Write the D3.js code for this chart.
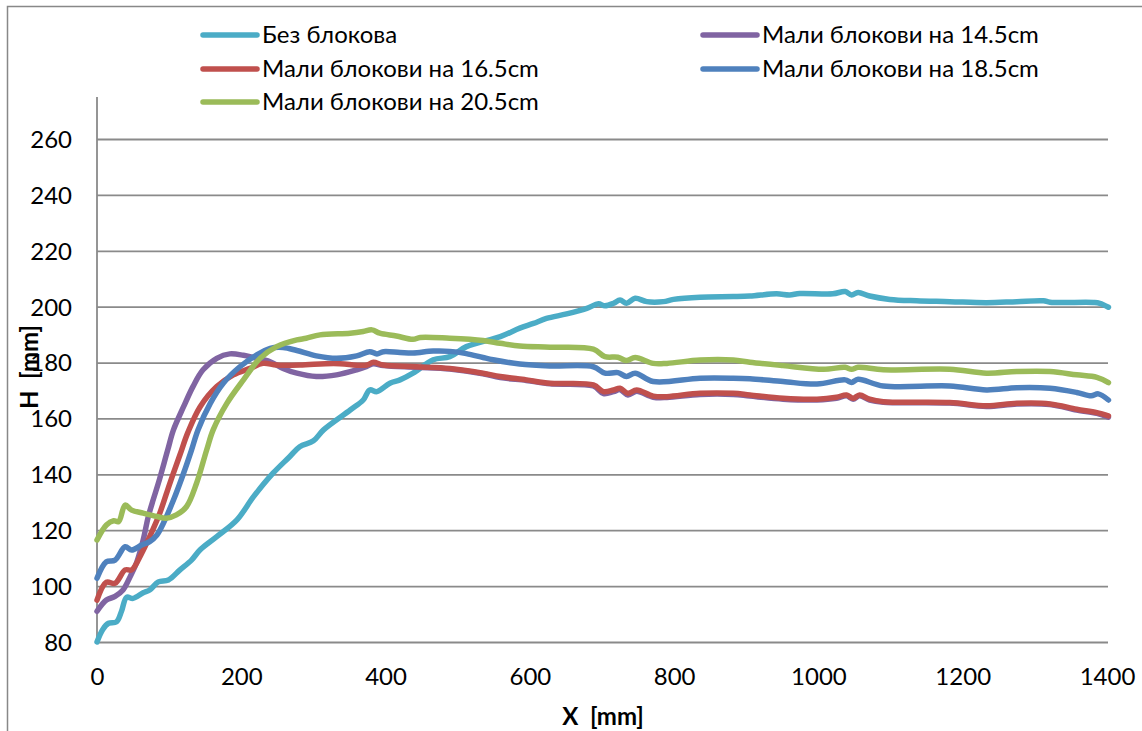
<!DOCTYPE html>
<html><head><meta charset="utf-8">
<script src="https://cdn.jsdelivr.net/npm/d3@7"></script>
<style>
html,body{margin:0;padding:0;background:#fff;}
text{font-family:Lato,"Open Sans",sans-serif;fill:#000;white-space:pre;}
</style></head>
<body><svg id="chart" width="1142" height="731"></svg>
<script>
// ---- data ----
const seriesNames = ["Без блокова","Мали блокови на 14.5cm","Мали блокови на 16.5cm","Мали блокови на 18.5cm","Мали блокови на 20.5cm"];
const seriesColors = ["#4BACC6","#8064A2","#C0504D","#4F81BD","#9BBB59"];
const xTicks = [0,200,400,600,800,1000,1200,1400];
const yTicks = [80,100,120,140,160,180,200,220,240,260];

const bezBlokova = [[0,80],[8,84.5],[16,86.7],[27,87.2],[34,91],[41,96],[50,95.6],[64,97.6],[73,98.6],[85,101.5],[99,102.2],[115,105.8],[131,109.3],[143,113],[166,117.7],[194,123.7],[217,132],[244,140.4],[267,146.3],[281,149.9],[300,152],[314,155.9],[351,163],[369,166.6],[378,170.2],[388,169.6],[406,172.6],[420,173.8],[438,176.2],[466,181],[489,182.1],[512,185.7],[559,189.3],[586,192.3],[605,194],[623,195.8],[651,197.4],[679,199.4],[695,201],[704,200.3],[716,201.2],[725,202.4],[734,201.2],[746,203],[762,201.8],[785,201.8],[799,202.6],[836,203.4],[882,203.6],[905,203.8],[942,204.6],[960,204.2],[974,204.7],[1020,204.6],[1037,205.4],[1046,204.2],[1055,205.1],[1071,203.8],[1099,202.6],[1136,202.1],[1182,201.8],[1233,201.4],[1275,201.8],[1312,202.1],[1321,201.6],[1381,201.5],[1390,201.2],[1402,199.8]];

const mali145 = [[0,91],[13,95],[25,96.3],[36,98.6],[46,103.4],[55,108.5],[64,116.5],[71,124.8],[78,131],[85,136.8],[98,148.7],[106,155.9],[120,164.2],[133,171.4],[147,177.4],[166,181.5],[184,183.1],[203,182.6],[217,181.8],[240,180.3],[258,177.9],[277,176.2],[304,175],[332,175.6],[360,177.4],[374,178.6],[383,179.6],[397,178.9],[443,178.3],[489,177.7],[535,176],[559,174.6],[595,173.6],[628,172.4],[688,171.6],[702,168.9],[716,169.6],[725,170.3],[736,168.4],[748,169.7],[771,167.6],[790,167.5],[836,168.6],[882,168.6],[905,168],[951,166.9],[998,166.6],[1025,167.2],[1039,168.1],[1048,166.9],[1057,168.1],[1071,166.6],[1090,165.8],[1182,165.5],[1233,164.3],[1275,165.2],[1321,165],[1358,163],[1386,161.8],[1402,160.5]];

const mali165 = [[0,95],[13,101.4],[25,101],[39,105.8],[48,105.8],[62,111.8],[73,117.7],[87,126.1],[101,136.8],[115,147],[126,155],[143,164.2],[166,171.4],[189,175.6],[212,177.9],[230,179.7],[249,179.1],[281,179.1],[328,179.7],[374,179.1],[383,180.1],[397,179.1],[443,178.5],[489,177.9],[535,176.2],[559,175],[595,173.8],[628,172.6],[688,172],[702,169.6],[716,170.2],[725,170.8],[736,169],[748,170.2],[771,168],[790,167.8],[836,169],[882,169],[905,168.4],[951,167.2],[998,166.9],[1025,167.6],[1039,168.4],[1048,167.2],[1057,168.4],[1071,166.9],[1090,166],[1182,165.7],[1233,164.5],[1275,165.4],[1321,165.2],[1358,163.3],[1386,162.1],[1402,160.9]];

const mali185 = [[0,102.8],[13,108.7],[25,109.3],[39,114.1],[48,112.9],[62,114.7],[73,115.9],[83,118.3],[92,122.5],[106,130.8],[120,140.4],[131,148.7],[140,155.9],[157,165.4],[175,172.6],[198,178.5],[221,182.7],[240,185.1],[258,185.4],[277,184.3],[304,182.4],[332,181.5],[360,182.4],[378,183.9],[388,183.1],[397,183.9],[420,183.6],[438,183.4],[466,184.1],[489,184],[512,183.2],[535,181.8],[549,181],[586,179.5],[628,178.8],[688,178.5],[704,176.2],[722,176.4],[734,175],[746,176.2],[771,173.2],[836,174.4],[882,174.4],[905,174.2],[951,173.2],[998,172.3],[1037,173.8],[1046,172.9],[1055,174],[1090,171.6],[1182,171.6],[1233,170.2],[1275,171],[1321,170.8],[1358,169.3],[1378,168.1],[1388,168.8],[1402,166.6]];

const mali205 = [[0,116.5],[13,121.9],[23,123.4],[30,123.1],[39,129],[48,127.2],[64,126.1],[83,124.9],[96,124.3],[110,125.5],[124,128.4],[138,136.8],[152,148.7],[161,155.9],[180,165.4],[203,173.8],[226,181.5],[249,185.7],[277,188.1],[290,188.7],[309,189.9],[351,190.5],[369,191.1],[381,191.7],[392,190.5],[415,189.5],[438,188.3],[448,189],[489,188.7],[535,187.9],[559,186.9],[586,185.9],[628,185.5],[688,184.8],[704,182.1],[722,181.9],[734,180.7],[746,181.8],[771,179.7],[790,179.7],[836,180.9],[882,180.9],[905,180.1],[951,178.9],[1007,177.6],[1037,178.3],[1046,177.6],[1055,178.3],[1090,177.4],[1182,177.6],[1233,176.2],[1275,176.8],[1321,176.8],[1358,175.6],[1386,174.7],[1402,172.8]];

const seriesData = [bezBlokova, mali145, mali165, mali185, mali205];

// ---- layout ----
const svg = d3.select("#chart");
const plotLeft = 97, plotRight = 1107, plotTop = 97, plotBottom = 642;
const x = d3.scaleLinear().domain([0,1400]).range([plotLeft, plotRight]);
const y = d3.scaleLinear().domain([80,260]).range([plotBottom, 139]);
const fs = 24;

// outer border
svg.append("rect").attr("x",7.5).attr("y",6.5).attr("width",1150).attr("height",740)
  .attr("fill","none").attr("stroke","#888").attr("stroke-width",1.5);

// gridlines
const yAxis = d3.axisLeft(y).tickValues(yTicks).tickSize(-(plotRight - plotLeft + 1)).tickPadding(25);
const gy = svg.append("g").attr("transform",`translate(${plotLeft},0)`).call(yAxis);
gy.select(".domain").remove();
gy.selectAll(".tick line").attr("stroke","#8a8a8a").attr("stroke-width",1.8);
gy.selectAll(".tick text").attr("font-size",fs).attr("dy","0.35em").attr("x",-25);
// y axis line
svg.append("line").attr("x1",plotLeft).attr("x2",plotLeft).attr("y1",plotTop).attr("y2",plotBottom)
  .attr("stroke","#8a8a8a").attr("stroke-width",1.8);

const xAxis = d3.axisBottom(x).tickValues(xTicks).tickSize(0).tickPadding(26).tickFormat(d3.format("d"));
const gx = svg.append("g").attr("transform",`translate(0,${plotBottom})`).call(xAxis);
gx.select(".domain").remove();
gx.selectAll(".tick text").attr("font-size",fs);

// lines
const line = d3.line().x(d => x(d[0])).y(d => y(d[1])).curve(d3.curveCatmullRom.alpha(0.5));
seriesData.forEach((s,i) => {
  svg.append("path").datum(s).attr("d",line).attr("fill","none")
    .attr("stroke",seriesColors[i]).attr("stroke-width",5.5)
    .attr("stroke-linejoin","round").attr("stroke-linecap","round");
});

// axis titles
svg.append("text").attr("x",603).attr("y",717).attr("dy","0.35em").attr("text-anchor","middle")
  .attr("font-size",fs).attr("font-weight","bold").text("X  [mm]");
svg.append("text").attr("transform","translate(30,367) rotate(-90)").attr("dy","0.35em")
  .attr("text-anchor","middle").attr("font-size",fs).attr("font-weight","bold").text("H  [mm]");

// legend
const legendPos = [[203,35],[703,35],[203,69],[703,69],[203,102]];
seriesNames.forEach((n,i) => {
  const [lx,ly] = legendPos[i];
  svg.append("line").attr("x1",lx).attr("x2",lx+54).attr("y1",ly).attr("y2",ly)
    .attr("stroke",seriesColors[i]).attr("stroke-width",5.5).attr("stroke-linecap","round");
  svg.append("text").attr("x",lx+59).attr("y",ly).attr("dy","0.35em").attr("font-size",fs).text(n);
});
</script></body></html>
